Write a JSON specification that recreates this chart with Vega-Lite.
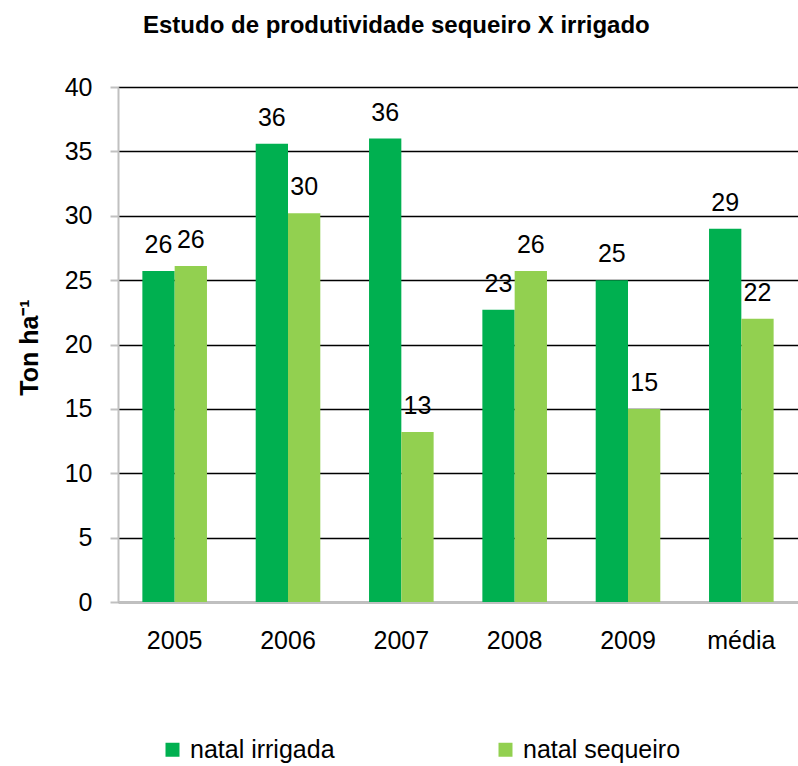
{
  "$schema": "https://vega.github.io/schema/vega-lite/v6.json",
  "width": 680,
  "height": 515,
  "autosize": {"type": "none"},
  "padding": {"left": 118, "top": 87, "right": 0, "bottom": 164},
  "background": "white",
  "title": {
    "text": "Estudo de produtividade sequeiro X irrigado",
    "font": "Liberation Sans",
    "fontSize": 24,
    "fontWeight": "bold",
    "color": "black",
    "anchor": "start",
    "frame": "group",
    "dx": 25,
    "offset": 37
  },
  "config": {
    "view": {"stroke": null},
    "font": "Liberation Sans"
  },
  "data": {
    "values": [
      {"ano": "2005", "serie": "natal irrigada", "valor": 25.7},
      {"ano": "2005", "serie": "natal sequeiro", "valor": 26.1},
      {"ano": "2006", "serie": "natal irrigada", "valor": 35.6},
      {"ano": "2006", "serie": "natal sequeiro", "valor": 30.2},
      {"ano": "2007", "serie": "natal irrigada", "valor": 36.0},
      {"ano": "2007", "serie": "natal sequeiro", "valor": 13.2},
      {"ano": "2008", "serie": "natal irrigada", "valor": 22.7},
      {"ano": "2008", "serie": "natal sequeiro", "valor": 25.7},
      {"ano": "2009", "serie": "natal irrigada", "valor": 25.0},
      {"ano": "2009", "serie": "natal sequeiro", "valor": 15.0},
      {"ano": "média", "serie": "natal irrigada", "valor": 29.0},
      {"ano": "média", "serie": "natal sequeiro", "valor": 22.0}
    ]
  },
  "encoding": {
    "x": {
      "field": "ano",
      "type": "nominal",
      "sort": null,
      "scale": {"paddingInner": 0.43, "paddingOuter": 0.215},
      "axis": {
        "title": null,
        "labelAngle": 0,
        "labelFontSize": 25,
        "labelColor": "black",
        "labelPadding": 26,
        "ticks": false,
        "domainColor": "#c0c0c0",
        "domainWidth": 2,
        "grid": false
      }
    },
    "xOffset": {"field": "serie", "type": "nominal", "sort": ["natal irrigada", "natal sequeiro"]},
    "y": {
      "field": "valor",
      "type": "quantitative",
      "scale": {"domain": [0, 40], "nice": false},
      "axis": {
        "values": [0, 5, 10, 15, 20, 25, 30, 35, 40],
        "title": "Ton ha⁻¹",
        "titleFontSize": 25,
        "titleFontWeight": "bold",
        "titleColor": "black",
        "titleAngle": -90,
        "titleAlign": "center",
        "titleBaseline": "alphabetic",
        "titleX": -81,
        "titleY": 260,
        "labelFontSize": 25,
        "labelColor": "black",
        "labelPadding": 18,
        "tickColor": "#c0c0c0",
        "tickSize": 8,
        "tickWidth": 2,
        "domainColor": "#c0c0c0",
        "domainWidth": 2,
        "grid": true,
        "gridColor": "black",
        "gridWidth": 1.5,
        "gridOpacity": 1
      }
    }
  },
  "layer": [
    {
      "mark": {"type": "bar"},
      "encoding": {
        "color": {
          "field": "serie",
          "type": "nominal",
          "scale": {"domain": ["natal irrigada", "natal sequeiro"], "range": ["#00B050", "#92D050"]},
          "legend": {
            "title": null,
            "orient": "none",
            "legendX": 42,
            "legendY": 650,
            "direction": "horizontal",
            "columns": 2,
            "columnPadding": 158,
            "symbolType": "square",
            "symbolSize": 196,
            "symbolStrokeWidth": 0,
            "symbolOpacity": 1,
            "labelFontSize": 25,
            "labelColor": "black",
            "labelOffset": 5,
            "labelLimit": 300
          }
        }
      }
    },
    {
      "mark": {"type": "text", "fontSize": 25, "color": "black", "baseline": "alphabetic", "dy": -18},
      "encoding": {
        "text": {"field": "valor", "type": "quantitative", "format": ".0f"}
      }
    }
  ]
}
